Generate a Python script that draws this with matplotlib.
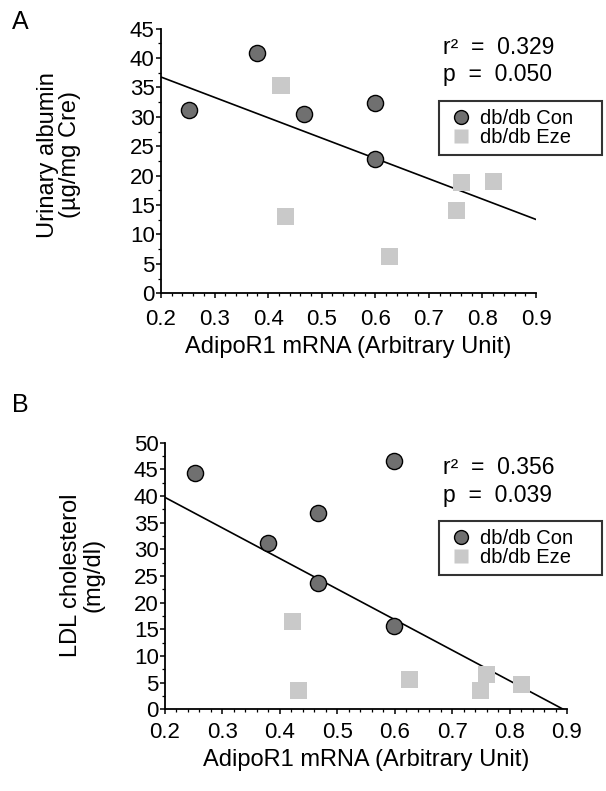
import matplotlib
matplotlib.use("Agg")
import matplotlib.pyplot as plt
from matplotlib.ticker import MultipleLocator
from matplotlib.lines import Line2D
import numpy as np

plt.rcParams['font.family'] = ['Liberation Sans', 'DejaVu Sans']

# ---- Panel A data ----
a_con_x = [0.253, 0.380, 0.467, 0.600, 0.600]
a_con_y = [31.2, 40.8, 30.5, 32.3, 22.8]
a_eze_x = [0.424, 0.433, 0.627, 0.752, 0.761, 0.821]
a_eze_y = [35.4, 13.1, 6.2, 14.0, 18.9, 19.0]
a_fit = (43.7, -34.6)   # intercept, slope
a_stats = ("0.329", "0.050")
a_ylabel = "Urinary albumin\n(\u00b5g/mg Cre)"
a_yticks = list(range(0, 50, 5))

# ---- Panel B data ----
b_con_x = [0.253, 0.379, 0.467, 0.466, 0.599, 0.599]
b_con_y = [44.3, 31.1, 36.9, 23.6, 46.6, 15.7]
b_eze_x = [0.422, 0.432, 0.626, 0.750, 0.760, 0.820]
b_eze_y = [16.4, 3.5, 5.6, 3.6, 6.6, 4.7]
b_fit = (51.2, -57.3)
b_stats = ("0.356", "0.039")
b_ylabel = "LDL cholesterol\n(mg/dl)"
b_yticks = list(range(0, 55, 5))

xticks = [0.2, 0.3, 0.4, 0.5, 0.6, 0.7, 0.8, 0.9]
xlabel = "AdipoR1 mRNA (Arbitrary Unit)"
legend_labels = ["db/db Con", "db/db Eze"]

W, H = 606, 791
fig = plt.figure(figsize=(W / 100, H / 100), dpi=100)

def fig_rect(l, r, t, b):
    return [l / W, 1 - b / H, (r - l) / W, (b - t) / H]

con_fc = '#707070'
eze_fc = '#c9c9c9'

def panel(rect, cx, cy, ex, ey, fit, stats, ylabel, yticks, letter, letter_pos,
          ylabel_pos, stats_y, stats_gap, leg_top, xpad):
    ax = fig.add_axes(rect)
    ax.scatter(ex, ey, marker='s', s=150, color=eze_fc, edgecolors='none', zorder=3)
    ax.scatter(cx, cy, marker='o', s=135, color=con_fc, edgecolors='black',
               linewidths=1.0, zorder=4)
    xs = np.array([xticks[0], xticks[-1]])
    ax.plot(xs, fit[0] + fit[1] * xs, color='black', lw=1.2, zorder=2)
    ax.set_xlim(xticks[0], xticks[-1])
    ax.set_ylim(yticks[0], yticks[-1])
    ax.set_xticks(xticks)
    ax.set_xticklabels([f"{t:.1f}" for t in xticks])
    ax.set_yticks(yticks)
    ax.xaxis.set_minor_locator(MultipleLocator(0.02))
    ax.yaxis.set_minor_locator(MultipleLocator(2.5))
    for s in ['top', 'right']:
        ax.spines[s].set_visible(False)
    for s in ['left', 'bottom']:
        ax.spines[s].set_linewidth(1.3)
    ax.tick_params(which='major', direction='out', length=3.5, width=1.1,
                   labelsize=16)
    ax.tick_params(which='minor', direction='out', length=2, width=0.9)
    ax.tick_params(axis='x', which='major', pad=xpad)
    ax.tick_params(axis='y', which='major', pad=1)
    ax.set_xlabel(xlabel, fontsize=17, labelpad=4)
    fig.text(ylabel_pos[0] / W, 1 - ylabel_pos[1] / H, ylabel, rotation=90,
             ha='center', va='center', fontsize=17, linespacing=1.05)
    fig.text(letter_pos[0] / W, 1 - letter_pos[1] / H, letter, fontsize=18,
             ha='left', va='center')
    fig.text(443 / W, 1 - stats_y / H, "r\u00b2  =  " + stats[0], fontsize=16.5,
             ha='left', va='center')
    fig.text(443 / W, 1 - (stats_y + stats_gap) / H, "p  =  " + stats[1],
             fontsize=16.5, ha='left', va='center')
    handles = [
        Line2D([], [], marker='o', ls='none', markersize=10, markerfacecolor=con_fc,
               markeredgecolor='black', markeredgewidth=1.0),
        Line2D([], [], marker='s', ls='none', markersize=10, markerfacecolor=eze_fc,
               markeredgecolor='none'),
    ]
    leg = fig.legend(handles, legend_labels, loc='upper left',
                     bbox_to_anchor=(439 / W, 1 - (leg_top + 56) / H, 163 / W, 56 / H),
                     mode='expand',
                     frameon=True, fancybox=False, fontsize=14.5,
                     handletextpad=0.25, handlelength=1.4, borderpad=0.4,
                     labelspacing=0.0, borderaxespad=0)
    leg.get_frame().set_edgecolor('black')
    leg.get_frame().set_linewidth(1.5)
    return ax

panel(fig_rect(161, 536, 28.7, 293.3), a_con_x, a_con_y, a_eze_x, a_eze_y, a_fit,
      a_stats, a_ylabel, a_yticks, "A", (12, 22), (59, 155), 48, 26.5, 101, 8)
panel(fig_rect(165, 567, 442.7, 709.3), b_con_x, b_con_y, b_eze_x, b_eze_y, b_fit,
      b_stats, b_ylabel, b_yticks, "B", (12, 405), (82, 575), 467.5, 28, 521, 6)

fig.savefig("out.png", dpi=100)
